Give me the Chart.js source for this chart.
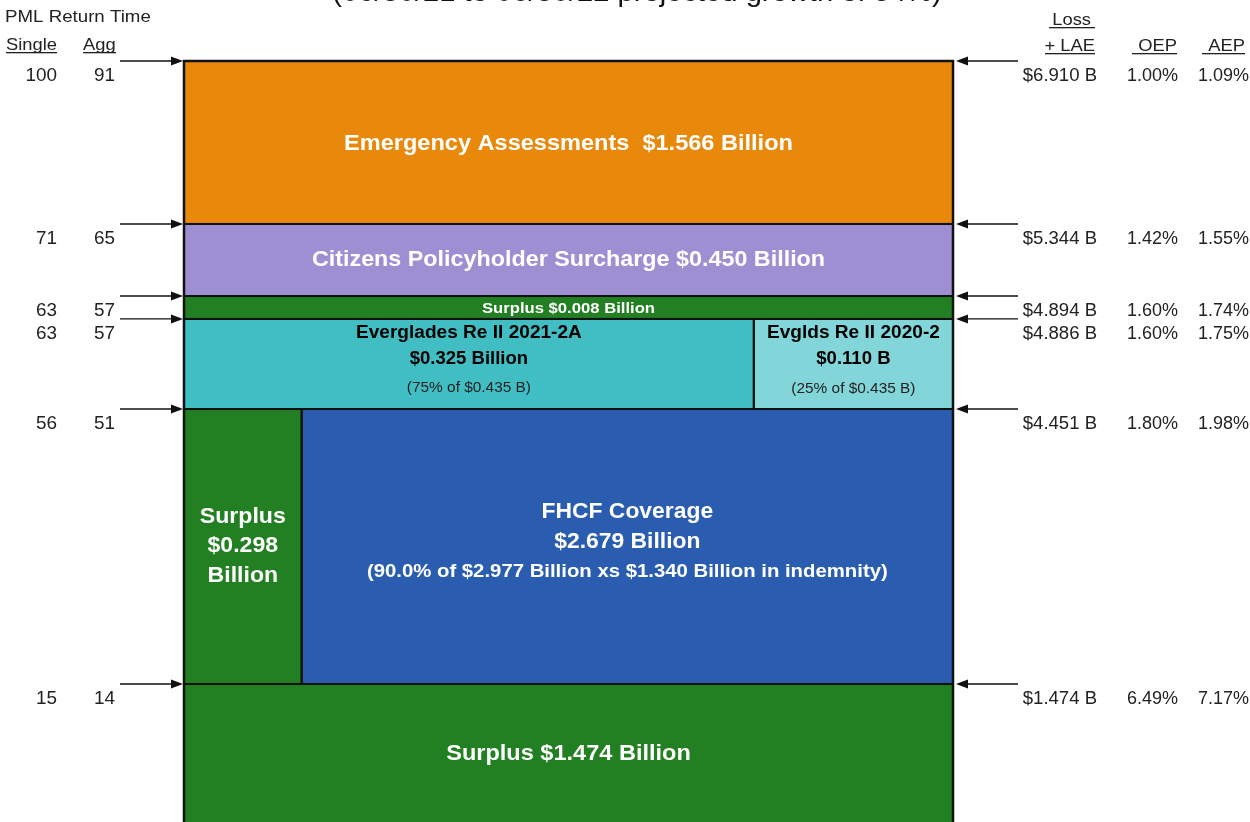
<!DOCTYPE html>
<html>
<head>
<meta charset="utf-8">
<title>Citizens risk transfer tower</title>
<script src="https://cdn.jsdelivr.net/npm/chart.js@4.4.1/dist/chart.umd.min.js"></script>
<style>
  html, body { margin: 0; padding: 0; background: #fff; overflow: hidden; }
  #wrap { position: absolute; left: 0; top: -20px; width: 1250px; height: 846px; }
</style>
</head>
<body>
<div id="wrap"><canvas id="tower" width="1250" height="846"></canvas></div>
<script>
// Tower layers, bottom to top ($ billions of loss + LAE)
const layerLow  = [0,     1.474, 1.474, 4.451, 4.451, 4.886, 4.894, 5.344];
const layerHigh = [1.474, 4.451, 4.451, 4.886, 4.886, 4.894, 5.344, 6.910];
// share of the tower width each block takes (percent, as drawn)
const shareFrom = [0,   0,    15.3, 0,    74.1, 0,   0,   0];
const shareTo   = [100, 15.3, 100,  74.1, 100,  100, 100, 100];
const layerLabels = [
    ['Surplus $1.474 Billion'],
    ['Surplus', '$0.298', 'Billion'],
    ['FHCF Coverage', '$2.679 Billion', '(90.0% of $2.977 Billion xs $1.340 Billion in indemnity)'],
    ['Everglades Re II 2021-2A', '$0.325 Billion', '(75% of $0.435 B)'],
    ['Evglds Re II 2020-2', '$0.110 B', '(25% of $0.435 B)'],
    ['Surplus $0.008 Billion'],
    ['Citizens Policyholder Surcharge $0.450 Billion'],
    ['Emergency Assessments  $1.566 Billion']
];
const layerColors = ['#228022', '#228022', '#2A5DB0', '#41BEC3', '#82D5D8', '#228022', '#9E8FD2', '#E8890C'];

// Attachment points with PML return times and probabilities
const attachLoss = [6.910, 5.344, 4.894, 4.886, 4.451, 1.474];
const singleRT   = [100, 71, 63, 63, 56, 15];
const aggRT      = [91, 65, 57, 57, 51, 14];
const oepPct     = [1.00, 1.42, 1.60, 1.60, 1.80, 6.49];
const aepPct     = [1.09, 1.55, 1.74, 1.75, 1.98, 7.17];

const titleText = '(06/30/21 to 06/30/22 projected growth of 34%)';
const FONT = "'Liberation Sans', Arial, sans-serif";

// text look of each layer: line fonts, offsets from the block centre, horizontal stretch
const labelStyle = [
    { color: '#fff', fonts: ['bold 22px'], offsets: [0], sx: [1.07] },
    { color: '#fff', fonts: ['bold 22px', 'bold 22px', 'bold 22px'], offsets: [-30, -1, 29], sx: [1.05, 1.05, 1.05] },
    { color: '#fff', fonts: ['bold 22px', 'bold 22px', 'bold 19px'], offsets: [-35, -5, 25], sx: [1.04, 1.04, 1.07] },
    { color: '#000', fonts: ['bold 18px', 'bold 18px', '14px'], offsets: [-31, -5, 24], sx: [1.06, 1.03, 1.1] },
    { color: '#000', fonts: ['bold 18px', 'bold 18px', '14px'], offsets: [-31, -5, 25], sx: [1.06, 1.03, 1.1] },
    { color: '#fff', fonts: ['bold 15px'], offsets: [1], sx: [1.11] },
    { color: '#fff', fonts: ['bold 22px'], offsets: [0], sx: [1.06] },
    { color: '#fff', fonts: ['bold 22px'], offsets: [1], sx: [1.07] }
];

// The tower is not drawn to scale: a piecewise linear axis gives each layer its band
class TowerScale extends Chart.LinearScale {
    getPixelForValue(value) {
        const k = this.options.knots, f = this.options.bands;
        let i = 0;
        while (i < k.length - 2 && value > k[i + 1]) i++;
        const t = (value - k[i]) / (k[i + 1] - k[i]);
        const frac = f[i] + t * (f[i + 1] - f[i]);
        return this.bottom - frac * (this.bottom - this.top);
    }
    getValueForPixel(pixel) {
        const k = this.options.knots, f = this.options.bands;
        const frac = (this.bottom - pixel) / (this.bottom - this.top);
        let i = 0;
        while (i < f.length - 2 && frac > f[i + 1]) i++;
        const t = (frac - f[i]) / (f[i + 1] - f[i]);
        return k[i] + t * (k[i + 1] - k[i]);
    }
}
TowerScale.id = 'tower';
TowerScale.defaults = Chart.LinearScale.defaults;
Chart.register(TowerScale);

function arrow(ctx, from, to, y) {
    const dir = Math.sign(to - from);
    ctx.beginPath();
    ctx.moveTo(from, y);
    ctx.lineTo(to - dir * 10, y);
    ctx.stroke();
    ctx.beginPath();
    ctx.moveTo(to, y);
    ctx.lineTo(to - dir * 12, y - 4.5);
    ctx.lineTo(to - dir * 12, y + 4.5);
    ctx.closePath();
    ctx.fill();
}

// text a bit wider than the font, like the source picture
function wideText(ctx, text, x, y, sx) {
    ctx.save();
    ctx.translate(x, y);
    ctx.scale(sx, 1);
    ctx.fillText(text, 0, 0);
    ctx.restore();
}

function underlined(ctx, text, x, y, ulFrom, ulTo) {
    wideText(ctx, text, x, y, 1.08);
    ctx.fillRect(ulFrom, y + 2, ulTo - ulFrom, 1.3);
}

const towerDraw = {
    id: 'towerDraw',
    afterDraw(chart) {
        const { ctx, chartArea: area, scales: { x, y } } = chart;
        ctx.save();

        // blocks
        const boxes = layerLow.map((low, i) => ({
            left: x.getPixelForValue(shareFrom[i]),
            right: x.getPixelForValue(shareTo[i]),
            top: y.getPixelForValue(layerHigh[i]),
            bottom: y.getPixelForValue(low)
        }));
        boxes.forEach((b, i) => {
            ctx.fillStyle = layerColors[i];
            ctx.fillRect(b.left, b.top, b.right - b.left, b.bottom - b.top);
        });
        ctx.strokeStyle = '#111';
        ctx.lineWidth = 2;
        boxes.forEach(b => ctx.strokeRect(b.left, b.top, b.right - b.left, b.bottom - b.top));
        ctx.lineWidth = 2.5;
        ctx.strokeRect(area.left, area.top, area.right - area.left, area.bottom - area.top);

        // block labels
        ctx.textAlign = 'center';
        ctx.textBaseline = 'middle';
        boxes.forEach((b, i) => {
            const st = labelStyle[i];
            const cx = (b.left + b.right) / 2, cy = (b.top + b.bottom) / 2;
            ctx.fillStyle = st.color;
            layerLabels[i].forEach((line, j) => {
                ctx.font = st.fonts[j] + ' ' + FONT;
                if (st.color === '#000' && j === 2) ctx.fillStyle = '#222';
                wideText(ctx, line, cx, cy + st.offsets[j], st.sx[j]);
            });
        });

        // arrows and side numbers
        ctx.strokeStyle = '#111';
        ctx.lineWidth = 1.3;
        ctx.textBaseline = 'alphabetic';
        ctx.textAlign = 'right';
        ctx.font = '18px ' + FONT;
        attachLoss.forEach((loss, i) => {
            const yy = y.getPixelForValue(loss);
            ctx.fillStyle = '#111';
            arrow(ctx, area.left - 64, area.left - 1, yy);
            arrow(ctx, area.right + 65, area.right + 3, yy);
            ctx.fillStyle = '#222';
            const base = yy + 20;
            wideText(ctx, String(singleRT[i]), 57, base, 1.05);
            wideText(ctx, String(aggRT[i]), 115, base, 1.05);
            wideText(ctx, '$' + loss.toFixed(3) + ' B', 1097, base, 1.03);
            wideText(ctx, oepPct[i].toFixed(2) + '%', 1178, base, 1.0);
            wideText(ctx, aepPct[i].toFixed(2) + '%', 1249, base, 1.0);
        });

        // column headers
        ctx.fillStyle = '#222';
        ctx.font = '17px ' + FONT;
        ctx.textAlign = 'left';
        wideText(ctx, 'PML Return Time', 5, 42, 1.1);
        underlined(ctx, 'Single', 6, 70, 6, 57);
        underlined(ctx, 'Agg', 83, 70, 83, 116);
        ctx.textAlign = 'right';
        underlined(ctx, 'Loss', 1091, 45, 1049, 1095);
        underlined(ctx, '+ LAE', 1095, 71, 1045, 1095);
        underlined(ctx, 'OEP', 1177, 71, 1132, 1177);
        underlined(ctx, 'AEP', 1245, 71, 1202, 1245);

        // title (cut by the top edge)
        ctx.textAlign = 'center';
        ctx.fillStyle = '#111';
        ctx.font = '27px ' + FONT;
        wideText(ctx, titleText, 637, 21, 1.08);

        ctx.restore();
    }
};

new Chart(document.getElementById('tower').getContext('2d'), {
    type: 'scatter',
    data: { datasets: [] },
    options: {
        responsive: false,
        animation: false,
        events: [],
        layout: { padding: { left: 184, right: 297, top: 81, bottom: 2 } },
        scales: {
            x: { type: 'linear', min: 0, max: 100, display: false },
            y: {
                type: 'tower', min: 0, max: 6.910, display: false,
                knots: [0, 1.474, 4.451, 4.886, 4.894, 5.344, 6.910],
                bands: [0, 0.1835, 0.5439, 0.6619, 0.6920, 0.7864, 1]
            }
        },
        plugins: { legend: { display: false }, tooltip: { enabled: false } }
    },
    plugins: [towerDraw]
});
</script>
</body>
</html>
